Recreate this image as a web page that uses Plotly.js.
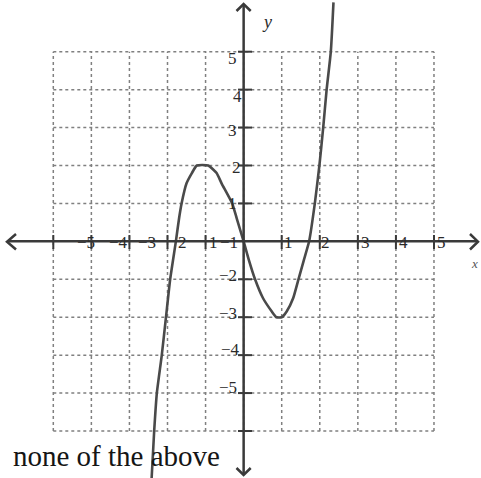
<!DOCTYPE html>
<html>
<head>
<meta charset="utf-8">
<script src="https://cdn.plot.ly/plotly-3.0.1.min.js"></script>
<style>html,body{margin:0;padding:0;background:#fff;}#chart{width:481px;height:478px;}</style>
</head>
<body>
<div id="chart"></div>
<script>
// ---- data ----
const curveX = [-2.42, -2.35, -2.28, -2.15, -2.04, -1.93, -1.78, -1.69, -1.63, -1.50, -1.36, -1.23, -0.93, -0.71, -0.58, -0.30, -0.18, 0.00, 0.14, 0.30, 0.51, 0.74, 0.86, 1.00, 1.13, 1.30, 1.44, 1.58, 1.72, 1.87, 1.99, 2.09, 2.18, 2.29, 2.36];
const curveY = [-6.3, -5.0, -4.0, -3.0, -2.0, -1.0, 0.0, 0.65, 1.0, 1.53, 1.8, 2.0, 2.0, 1.8, 1.53, 1.0, 0.6, 0.0, -0.5, -1.0, -1.5, -1.85, -2.0, -2.0, -1.85, -1.5, -1.0, -0.5, 0.0, 1.0, 2.0, 3.0, 4.0, 5.0, 6.3];
const gridValues = [-5, -4, -3, -2, -1, 0, 1, 2, 3, 4, 5];
const xTickLabels = ['−5', '−4', '−3', '2', '1', '−1', '1', '2', '3', '4', '5'];
const yTickLabels = ['5', '4', '3', '2', '1', '−2', '−3', '−4', '−5'];
const answerText = 'none of the above';

// ---- layout helpers (placement of the odd, hand-set labels) ----
const xLabelPlace = [-4.14, -3.30, -2.54, -1.60, -0.805, -0.385, 1.19, 2.16, 3.19, 4.19, 5.20];
const yLabelPlaceY = [4.83, 3.83, 2.91, 1.95, 0.985, -0.89, -1.89, -2.84, -3.84];
const yLabelPlaceX = [-0.28, -0.16, -0.28, -0.18, -0.28, -0.41, -0.41, -0.35, -0.41];

const W = 481, H = 478;
const px = v => v / W;          // paper x from pixel
const py = v => 1 - v / H;      // paper y from pixel

const shapes = [];
const gridStyle = {color: '#808080', width: 1.5, dash: 'dot'};
gridValues.forEach(v => {
  shapes.push({type: 'line', xref: 'x', yref: 'y', x0: -5, x1: 5, y0: v, y1: v, line: gridStyle, layer: 'below'});
  shapes.push({type: 'line', xref: 'x', yref: 'y', x0: v, x1: v, y0: -5, y1: 5, line: gridStyle, layer: 'below'});
});
const axisStyle = {color: '#3a3a3a', width: 2.5};
// axes
shapes.push({type: 'line', xref: 'paper', yref: 'y', x0: px(7), x1: px(478), y0: 0, y1: 0, line: axisStyle});
shapes.push({type: 'line', xref: 'x', yref: 'paper', x0: 0, x1: 0, y0: py(4), y1: py(475), line: axisStyle});
// arrow heads
shapes.push({type: 'path', xref: 'paper', yref: 'paper',
  path: `M ${px(16)} ${py(234)} L ${px(7)} ${py(241.7)} L ${px(16)} ${py(249.5)}`, line: axisStyle});
shapes.push({type: 'path', xref: 'paper', yref: 'paper',
  path: `M ${px(470)} ${py(234)} L ${px(478)} ${py(241.7)} L ${px(470)} ${py(249.5)}`, line: axisStyle});
shapes.push({type: 'path', xref: 'paper', yref: 'paper',
  path: `M ${px(236.5)} ${py(11)} L ${px(243.6)} ${py(4)} L ${px(250.7)} ${py(11)}`, line: axisStyle});
shapes.push({type: 'path', xref: 'paper', yref: 'paper',
  path: `M ${px(236.5)} ${py(468)} L ${px(243.6)} ${py(475)} L ${px(250.7)} ${py(468)}`, line: axisStyle});
// tick marks
gridValues.filter(v => v !== 0).forEach(v => {
  shapes.push({type: 'line', xref: 'x', yref: 'paper', x0: v, x1: v, y0: py(235), y1: py(249), line: {color: '#3a3a3a', width: 2}});
  shapes.push({type: 'line', xref: 'paper', yref: 'y', x0: px(238), x1: px(252), y0: v, y1: v, line: {color: '#3a3a3a', width: 2}});
});

const labelFont = {family: 'Liberation Serif, Times New Roman, serif', size: 17, color: '#2a2a2a'};
const annotations = [];
xTickLabels.forEach((t, i) => annotations.push({
  x: xLabelPlace[i], y: -0.03, xref: 'x', yref: 'y', text: t, showarrow: false,
  xanchor: 'center', yanchor: 'middle', font: labelFont}));
yTickLabels.forEach((t, i) => annotations.push({
  x: yLabelPlaceX[i], y: yLabelPlaceY[i], xref: 'x', yref: 'y', text: t, showarrow: false,
  xanchor: 'center', yanchor: 'middle', font: labelFont}));
annotations.push({x: px(267), y: py(22), xref: 'paper', yref: 'paper', text: '<i>y</i>', showarrow: false,
  xanchor: 'center', yanchor: 'middle', font: {family: 'Liberation Serif, serif', size: 18, color: '#2a2a2a'}});
annotations.push({x: px(474), y: py(263), xref: 'paper', yref: 'paper', text: '<i>x</i>', showarrow: false,
  xanchor: 'center', yanchor: 'middle', font: {family: 'Liberation Serif, serif', size: 13, color: '#555'}});
annotations.push({x: px(11), y: py(455.5), xref: 'paper', yref: 'paper', text: answerText, showarrow: false,
  xanchor: 'left', yanchor: 'middle', font: {family: 'Liberation Serif, Times New Roman, serif', size: 29, color: '#151515'}});

const trace = {
  x: curveX, y: curveY, type: 'scatter', mode: 'lines',
  line: {color: '#4a4a4a', width: 2.6, shape: 'spline', smoothing: 0.5},
  hoverinfo: 'skip', cliponaxis: true
};

const layout = {
  width: W, height: H,
  margin: {l: 0, r: 0, t: 0, b: 0, pad: 0},
  paper_bgcolor: '#ffffff', plot_bgcolor: '#ffffff',
  showlegend: false,
  xaxis: {range: [-6.400, 6.235], showgrid: false, zeroline: false, showticklabels: false, ticks: '', fixedrange: true},
  yaxis: {range: [-6.239, 6.363], showgrid: false, zeroline: false, showticklabels: false, ticks: '', fixedrange: true},
  shapes: shapes,
  annotations: annotations
};

Plotly.newPlot('chart', [trace], layout, {staticPlot: true, displayModeBar: false});
</script>
</body>
</html>
